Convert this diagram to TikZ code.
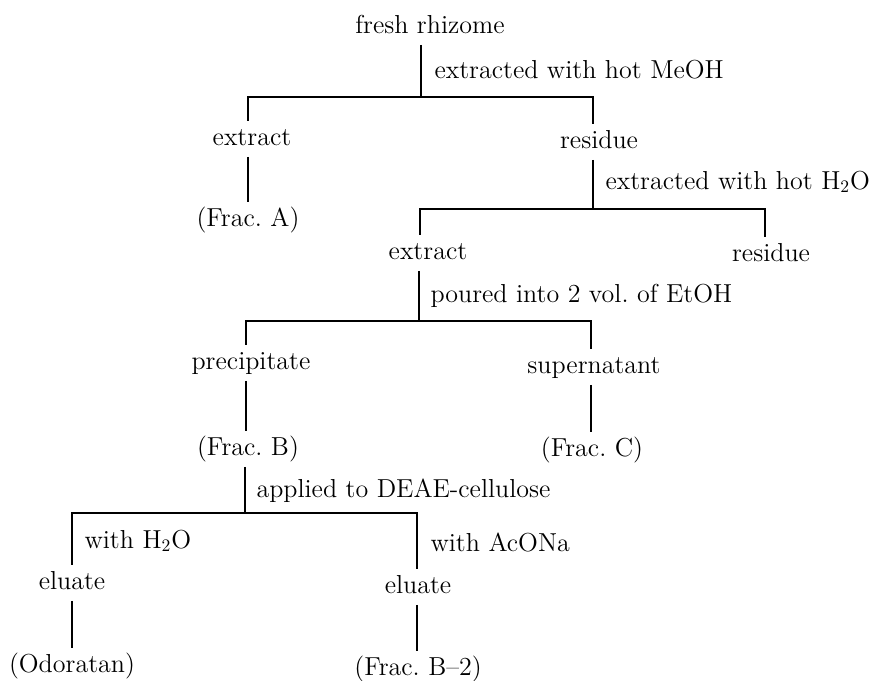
\documentclass[tikz,border=0pt]{standalone}
\begin{document}
\begin{tikzpicture}[x=0.02cm,y=-0.02cm,line width=0.6pt]
\tikzstyle{every node}=[inner xsep=0pt,inner ysep=3.4pt,anchor=base,text height=10pt,text depth=3pt,font=\fontsize{14.8}{17}\selectfont]
\tikzstyle{lab}=[anchor=base west]
\useasboundingbox (0,0) rectangle (878,680);
% products
\node(rhz) at (430,33) {fresh rhizome};
\node(extA) at (252,145) {extract};
\node(res1) at (599,148) {residue};
\node(fracA) at (248,226) {(Frac.~A)};
\node(ext2) at (428,259) {extract};
\node(res2) at (771,261) {residue};
\node(prec) at (251,369) {precipitate};
\node(sup) at (594,373) {supernatant};
\node(fracB) at (248,455) {(Frac.~B)};
\node(fracC) at (592,456) {(Frac.~C)};
\node(eluL) at (72,589) {eluate};
\node(eluR) at (418,593) {eluate};
\node(odo) at (72,672) {(Odoratan)};
\node(fracB2) at (418,675) {(Frac.~B--2)};
% treatments
\node[lab](lab1) at (434,78) {extracted with hot MeOH};
\node[lab](lab2) at (605,189) {extracted with hot H$_2$O};
\node[lab](lab3) at (430,302) {poured into 2 vol.\ of EtOH};
\node[lab](lab4) at (256,497) {applied to DEAE-cellulose};
\node[lab](lab5) at (84,548) {with H$_2$O};
\node[lab](lab6) at (430,551) {with AcONa};
% junctions
\coordinate(j1) at (421,97);
\coordinate(j1l) at (248,97);
\coordinate(j1r) at (593,97);
\coordinate(j2) at (593,209);
\coordinate(j2l) at (420,209);
\coordinate(j2r) at (765,209);
\coordinate(j3) at (419,321);
\coordinate(j3l) at (246,321);
\coordinate(j3r) at (591,321);
\coordinate(j4) at (245,513);
\coordinate(j4l) at (72,513);
\coordinate(j4r) at (417,513);
\draw (rhz.south -| j1) -- (j1);
\draw (extA.north -| j1l) -- (j1l) -- (j1r) -- (res1.north -| j1r);
\draw (extA.south -| j1l) -- (fracA.north -| j1l);
\draw (res1.south -| j2) -- (j2);
\draw (ext2.north -| j2l) -- (j2l) -- (j2r) -- (res2.north -| j2r);
\draw (ext2.south -| j3) -- (j3);
\draw (prec.north -| j3l) -- (j3l) -- (j3r) -- (sup.north -| j3r);
\draw (prec.south -| j3l) -- (fracB.north -| j3l);
\draw (sup.south -| j3r) -- (fracC.north -| j3r);
\draw (fracB.south -| j4) -- (j4);
\draw (eluL.north -| j4l) -- (j4l) -- (j4r) -- (eluR.north -| j4r);
\draw (eluL.south -| j4l) -- (odo.north -| j4l);
\draw (eluR.south -| j4r) -- (fracB2.north -| j4r);
\end{tikzpicture}
\end{document}
